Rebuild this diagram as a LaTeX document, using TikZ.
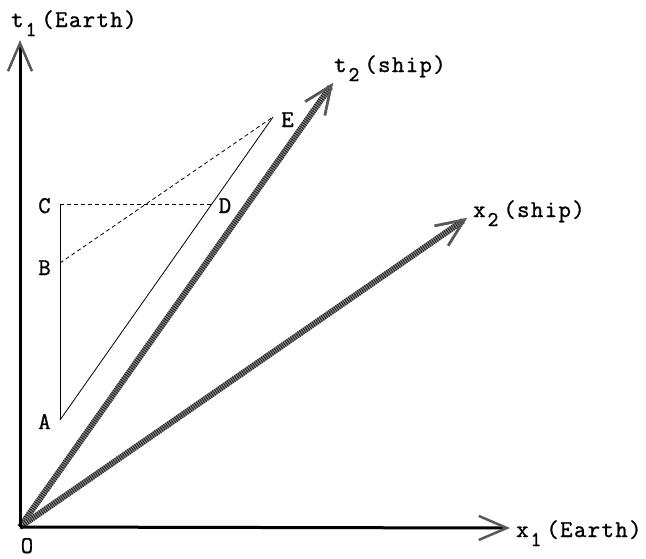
\documentclass[tikz,border=0pt]{standalone}
\usepackage{fontspec}
\usetikzlibrary{arrows.meta}

\newfontfamily\lblfont{Latin Modern Mono}[FakeBold=1.2,LetterSpace=6]
\newcommand{\axsub}[1]{\kern2pt\raisebox{-9pt}{\fontsize{21}{23}\selectfont #1}\kern5pt}

\begin{document}
\begin{tikzpicture}[
x=1pt,y=-1pt,
lbl/.style={
font=\fontsize{24}{26}\selectfont\lblfont,
inner sep=0pt,
anchor=base west
},
ptlbl/.style={
font=\fontsize{24}{26}\selectfont\lblfont,
inner sep=0pt,
anchor=base
},
earthaxis/.style={
line width=3pt,
-{Straight Barb[length=28pt,width=24pt,line width=2.5pt,color=black!65]}
},
shipaxis/.style={
line width=6pt,
draw=black!45,
-{Straight Barb[length=28pt,width=24pt,line width=2.5pt,color=black!65]},
postaction={draw=black!85,dash pattern=on 1pt off 1.2pt}
},
worldline/.style={line width=0.8pt},
signal/.style={line width=0.8pt,dash pattern=on 4pt off 3pt}
]

\useasboundingbox (0,0) rectangle (646,558);

% axes
\coordinate (O) at (20,527);
\coordinate (T1) at (20,40);
\coordinate (X1) at (510,528);
\coordinate (T2) at (333,83);
\coordinate (X2) at (467,218);

\draw[shipaxis] (O) -- (T2);
\draw[shipaxis] (O) -- (X2);
\draw[earthaxis] (O) -- (T1);
\draw[earthaxis] (O) -- (X1);

% events
\coordinate (A) at (60,420);
\coordinate (B) at (60,263);
\coordinate (C) at (60,204);
\coordinate (D) at (213,204);
\coordinate (E) at (273,117);

\draw[worldline] (A) -- (C);
\draw[worldline] (A) -- (E);
\draw[signal] (C) -- (D);
\draw[signal] (B) -- (E);

% labels
\node[lbl] (t1lbl) at (11,27) {t\axsub{1}(Earth)};
\node[lbl] (x1lbl) at (516,537) {x\axsub{1}(Earth)};
\node[lbl] (t2lbl) at (334,72) {t\axsub{2}(ship)};
\node[lbl] (x2lbl) at (473,217) {x\axsub{2}(ship)};

\node[ptlbl] (Olbl) at (27,553) {O};
\node[ptlbl] (Albl) at (44.5,429) {A};
\node[ptlbl] (Blbl) at (44.5,275) {B};
\node[ptlbl] (Clbl) at (44.5,213) {C};
\node[ptlbl] (Dlbl) at (225,213) {D};
\node[ptlbl] (Elbl) at (287.5,127) {E};

\end{tikzpicture}
\end{document}
